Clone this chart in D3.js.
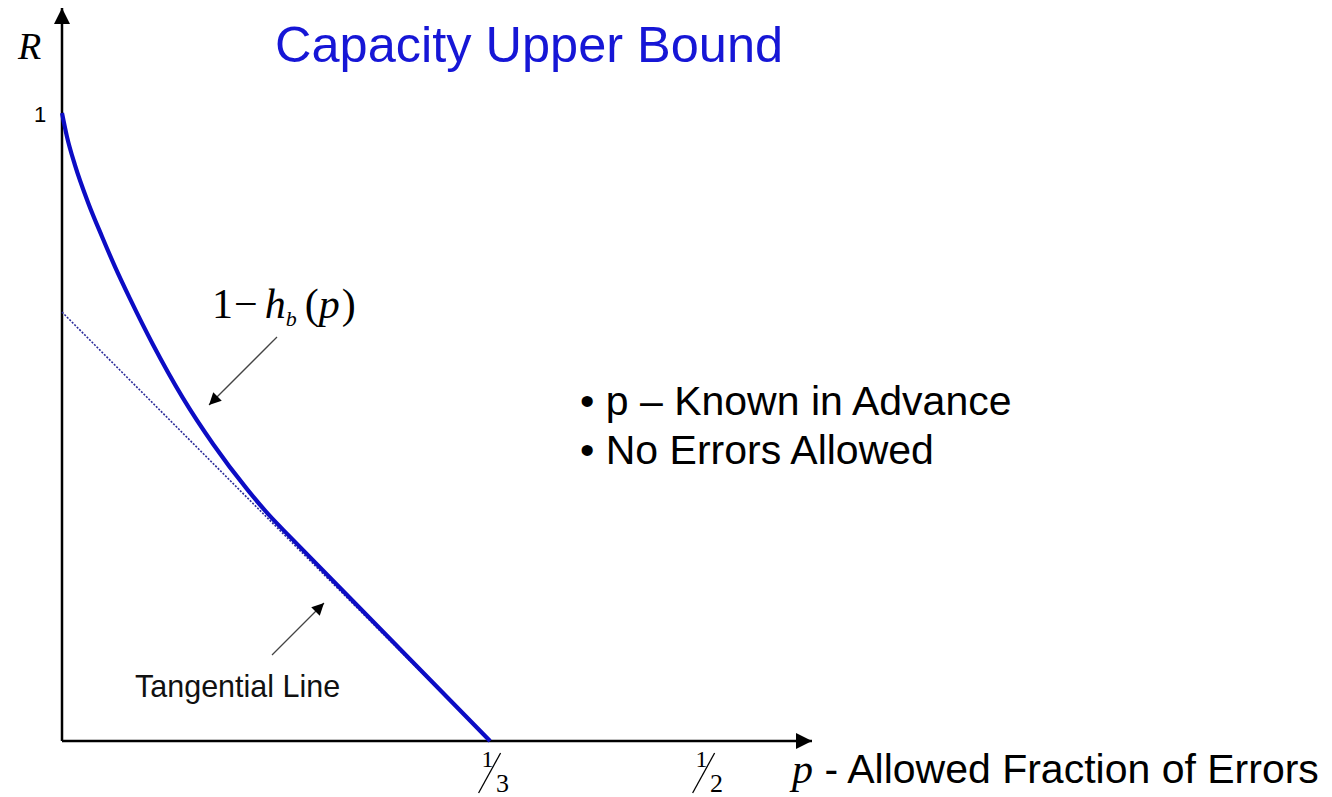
<!DOCTYPE html>
<html><head><meta charset="utf-8">
<script src="https://cdn.jsdelivr.net/npm/d3@7"></script>
<style>
html,body{margin:0;padding:0;background:#fff;}
svg{display:block;}
</style></head>
<body>
<script>
// ---- data ----
const curveP = [0, 0.0039, 0.0101, 0.0202, 0.0312, 0.0413, 0.0530, 0.0709, 0.0942, 0.1176, 0.1441, 0.1620, 0.1776, 0.25, 0.3333];
const curveR = [1.0, 0.962, 0.917, 0.858, 0.803, 0.755, 0.704, 0.631, 0.546, 0.473, 0.401, 0.358, 0.325, 0.174, 0];
const tangentP = [0, 0.3333];
const tangentR = [0.683, 0];
const xTickValues = [1/3, 1/2];
const xTickNum = ["1", "1"];
const xTickDen = ["3", "2"];
const yTickValues = [1];
const yTickLabels = ["1"];
const titleText = "Capacity Upper Bound";
const bulletTexts = ["\u2022 p \u2013 Known in Advance", "\u2022 No Errors Allowed"];

const W = 1332, H = 797;
const SANS = "'Liberation Sans', Arial, Helvetica, sans-serif";
const SERIF = "'Liberation Serif', 'Times New Roman', Times, serif";
const svg = d3.select("body").append("svg").attr("width", W).attr("height", H);

const x = d3.scaleLinear().domain([0, 0.584]).range([62, 812]);
const y = d3.scaleLinear().domain([0, 1]).range([741, 113]);

const defs = svg.append("defs");
defs.append("marker").attr("id","ah").attr("viewBox","0 0 10 10").attr("refX",10).attr("refY",5)
  .attr("markerWidth",16).attr("markerHeight",12).attr("markerUnits","userSpaceOnUse").attr("orient","auto")
  .append("path").attr("d","M0,0 L10,5 L0,10 Z").attr("fill","#000");
defs.append("marker").attr("id","axah").attr("viewBox","0 0 10 10").attr("refX",10).attr("refY",5)
  .attr("markerWidth",24).attr("markerHeight",16).attr("markerUnits","userSpaceOnUse").attr("orient","auto")
  .append("path").attr("d","M0,0 L10,5 L0,10 Z").attr("fill","#000");

// x axis
const xAxis = d3.axisBottom(x).tickValues(xTickValues).tickSize(0).tickSizeOuter(0).tickFormat("");
const gx = svg.append("g").attr("transform", `translate(0,${y(0)})`).call(xAxis);
gx.select(".domain").remove();
gx.append("line").attr("x1", x(0)).attr("x2", x(0.584)).attr("y1",0).attr("y2",0)
  .attr("stroke","#000").attr("stroke-width",2.5).attr("marker-end","url(#axah)");
gx.selectAll(".tick").each(function(d,i){
  const g = d3.select(this);
  g.select("text").remove();
  g.append("text").attr("x",-3).attr("y",26).attr("text-anchor","middle")
    .attr("font-family",SERIF).attr("font-size",24).attr("fill","#000")
    .text(xTickNum[i]);
  g.append("line").attr("x1",-12).attr("y1",52).attr("x2",10).attr("y2",12)
    .attr("stroke","#000").attr("stroke-width",1.3);
  g.append("text").attr("x",12).attr("y",51).attr("text-anchor","middle")
    .attr("font-family",SERIF).attr("font-size",26).attr("fill","#000")
    .text(xTickDen[i]);
});

// y axis
const yAxis = d3.axisLeft(y).tickValues(yTickValues).tickSize(0).tickSizeOuter(0).tickFormat("");
const gy = svg.append("g").attr("transform", `translate(${x(0)},0)`).call(yAxis);
gy.select(".domain").remove();
gy.append("line").attr("x1",0).attr("x2",0).attr("y1",y(0)).attr("y2",8)
  .attr("stroke","#000").attr("stroke-width",2.5).attr("marker-end","url(#axah)");
gy.selectAll(".tick").each(function(d,i){
  const g = d3.select(this);
  g.select("text").remove();
  g.append("text").attr("x",-22).attr("y",8).attr("text-anchor","middle")
    .attr("font-family",SANS).attr("font-size",22).attr("fill","#000").text(yTickLabels[i]);
});

// tangent (dotted)
const tanData = tangentP.map((p,i)=>[p, tangentR[i]]);
svg.append("path").datum(tanData)
  .attr("d", d3.line().x(d=>x(d[0])).y(d=>y(d[1])))
  .attr("fill","none").attr("stroke","#2b2b9a").attr("stroke-width",1.6).attr("stroke-dasharray","2,1.5");

// bound curve
const curData = curveP.map((p,i)=>[p, curveR[i]]);
svg.append("path").datum(curData)
  .attr("d", d3.line().x(d=>x(d[0])).y(d=>y(d[1])).curve(d3.curveMonotoneX))
  .attr("fill","none").attr("stroke","#0c0cc4").attr("stroke-width",4.2).attr("stroke-linejoin","round");

// title
svg.append("text").attr("x",275).attr("y",62).attr("font-family",SANS)
  .attr("font-size",50.5).attr("fill","#1616d6").text(titleText);

// R label
svg.append("text").attr("x",18).attr("y",59).attr("font-family",SERIF)
  .attr("font-style","italic").attr("font-size",38).attr("fill","#000").text("R");

// 1 - h_b(p)
const hl = svg.append("text").attr("x",212).attr("y",318).attr("font-family",SERIF)
  .attr("font-size",42).attr("fill","#000");
hl.append("tspan").text("1");
hl.append("tspan").attr("dx",1).text("\u2212");
hl.append("tspan").attr("dx",7).attr("font-style","italic").text("h");
hl.append("tspan").attr("font-style","italic").attr("font-size",22).attr("dy",8).text("b");
hl.append("tspan").attr("dy",-8).attr("dx",8).text("(");
hl.append("tspan").attr("font-style","italic").text("p");
hl.append("tspan").attr("dx",2).text(")");

svg.append("line").attr("x1",277).attr("y1",337).attr("x2",209).attr("y2",405)
  .attr("stroke","#444").attr("stroke-width",1.3).attr("marker-end","url(#ah)");

// Tangential Line
svg.append("text").attr("x",135).attr("y",697).attr("font-family",SANS)
  .attr("font-size",30.5).attr("fill","#111").text("Tangential Line");
svg.append("line").attr("x1",272).attr("y1",655).attr("x2",324).attr("y2",603)
  .attr("stroke","#444").attr("stroke-width",1.3).attr("marker-end","url(#ah)");

// bullets
bulletTexts.forEach((t,i)=>{
  svg.append("text").attr("x",580).attr("y",415 + i*49).attr("font-family",SANS)
    .attr("font-size",41).attr("fill","#000").text(t);
});

// x label
const xl = svg.append("text").attr("x",792).attr("y",783).attr("font-family",SANS)
  .attr("font-size",41).attr("fill","#000");
xl.append("tspan").attr("font-family",SERIF).attr("font-style","italic").attr("font-size",42).text("p");
xl.append("tspan").text(" - Allowed Fraction of Errors");
</script>
</body></html>
